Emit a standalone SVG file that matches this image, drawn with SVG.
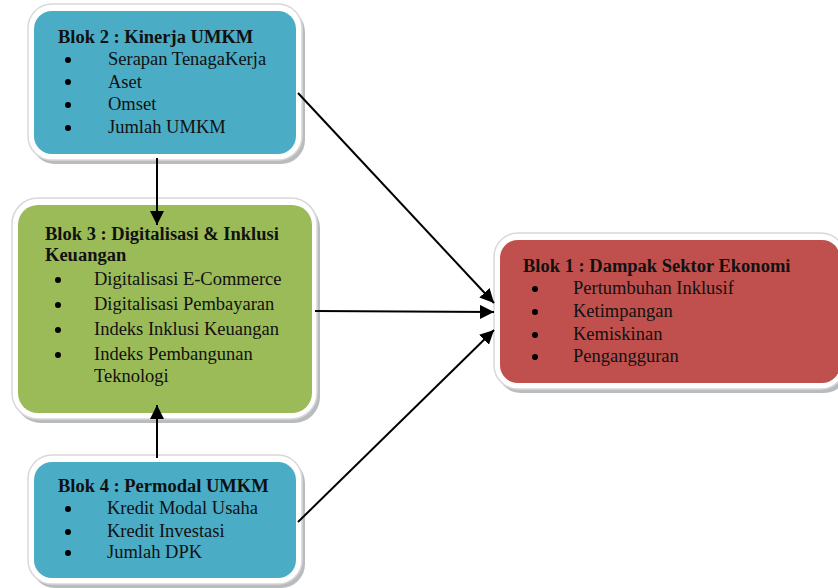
<svg xmlns="http://www.w3.org/2000/svg" width="838" height="588" viewBox="0 0 838 588">
<defs>
<style>
.shadow{fill:#9aa0a4;opacity:0.7}
.outer{fill:#ffffff;stroke:#d8d8d8;stroke-width:1.5}
.blue{fill:#4BACC6}
.green{fill:#9BBB59}
.red{fill:#C0504D}
text{font-family:"Liberation Serif","Times New Roman",serif;fill:#111;font-size:18.5px}
.t{font-weight:bold}
.b{fill:#000}
.conn line{stroke:#000;stroke-width:2}
</style>
<marker id="ah" viewBox="0 0 10 10" refX="10" refY="5" markerWidth="14" markerHeight="14" markerUnits="userSpaceOnUse" orient="auto">
<path d="M0,0 L10,5 L0,10 z" fill="#000"/>
</marker>
</defs>
<rect width="838" height="588" fill="#fff"/>

<g id="blok2">
<rect class="shadow" x="31" y="8" width="274" height="156" rx="24"/>
<rect class="outer" x="28" y="4" width="274" height="156" rx="24"/>
<rect class="blue" x="34" y="11" width="262" height="143" rx="18"/>
<text class="t" x="58" y="43">Blok 2 : Kinerja UMKM</text>
<circle class="b" cx="68" cy="60" r="3"/><text x="108" y="65">Serapan TenagaKerja</text>
<circle class="b" cx="68" cy="82" r="3"/><text x="108" y="88">Aset</text>
<circle class="b" cx="68" cy="105" r="3"/><text x="108" y="110">Omset</text>
<circle class="b" cx="68" cy="128" r="3"/><text x="108" y="133">Jumlah UMKM</text>
</g>

<g id="blok3">
<rect class="shadow" x="15" y="202" width="305" height="221" rx="26"/>
<rect class="outer" x="12" y="198" width="305" height="221" rx="26"/>
<rect class="green" x="18" y="205" width="294" height="208" rx="20"/>
<text class="t" x="45" y="240">Blok 3 : Digitalisasi &amp; Inklusi</text>
<text class="t" x="45" y="261">Keuangan</text>
<circle class="b" cx="58" cy="280" r="3"/><text x="94" y="285">Digitalisasi E-Commerce</text>
<circle class="b" cx="58" cy="305" r="3"/><text x="94" y="310">Digitalisasi Pembayaran</text>
<circle class="b" cx="58" cy="330" r="3"/><text x="94" y="335">Indeks Inklusi Keuangan</text>
<circle class="b" cx="58" cy="355" r="3"/><text x="94" y="360">Indeks Pembangunan</text>
<text x="94" y="382">Teknologi</text>
</g>

<g id="blok4">
<rect class="shadow" x="31" y="459" width="274" height="129" rx="24"/>
<rect class="outer" x="28" y="455" width="274" height="129" rx="24"/>
<rect class="blue" x="34" y="462" width="262" height="116" rx="18"/>
<text class="t" x="58" y="492">Blok 4 : Permodal UMKM</text>
<circle class="b" cx="68" cy="509" r="3"/><text x="107" y="514">Kredit Modal Usaha</text>
<circle class="b" cx="68" cy="532" r="3"/><text x="107" y="537">Kredit Investasi</text>
<circle class="b" cx="68" cy="553" r="3"/><text x="107" y="558">Jumlah DPK</text>
</g>

<g id="blok1">
<rect class="shadow" x="497" y="237" width="351" height="156" rx="24"/>
<rect class="outer" x="494" y="233" width="351" height="156" rx="24"/>
<rect class="red" x="500" y="240" width="340" height="143" rx="18"/>
<text class="t" x="523" y="272">Blok 1 : Dampak Sektor Ekonomi</text>
<circle class="b" cx="535" cy="289" r="3"/><text x="573" y="294">Pertumbuhan Inklusif</text>
<circle class="b" cx="535" cy="312" r="3"/><text x="573" y="317">Ketimpangan</text>
<circle class="b" cx="535" cy="335" r="3"/><text x="573" y="340">Kemiskinan</text>
<circle class="b" cx="535" cy="357" r="3"/><text x="573" y="362">Pengangguran</text>
</g>

<g id="connectors" class="conn">
<line x1="157" y1="158" x2="157" y2="225" marker-end="url(#ah)"/>
<line x1="157" y1="458" x2="157" y2="405" marker-end="url(#ah)"/>
<line x1="298" y1="93" x2="494" y2="303" marker-end="url(#ah)"/>
<line x1="315" y1="311" x2="494" y2="312" marker-end="url(#ah)"/>
<line x1="298" y1="522" x2="494" y2="330" marker-end="url(#ah)"/>
</g>
</svg>
